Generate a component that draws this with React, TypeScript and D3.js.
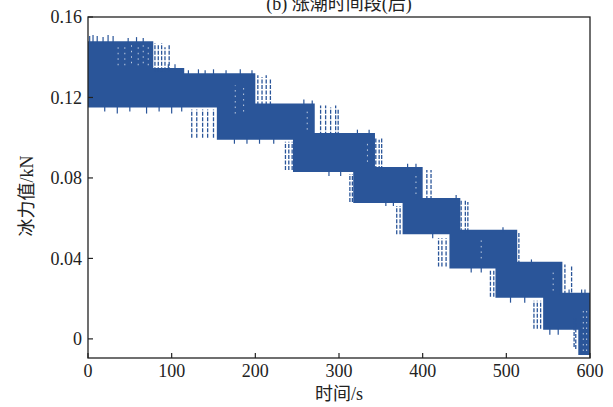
import React from 'react'
import * as d3 from 'd3'

// upper edge of the band: step starts (s) and level (kN)
const upperT = [0, 78, 115, 200, 271, 343, 400, 445, 513, 567]
const upperV = [0.148, 0.1347, 0.132, 0.117, 0.1024, 0.0855, 0.07, 0.0542, 0.0383, 0.0229]

// lower edge of the band
const lowerT = [0, 154, 245, 317, 376, 432, 487, 544, 586]
const lowerV = [0.115, 0.099, 0.083, 0.0676, 0.052, 0.035, 0.0204, 0.0045, -0.008]

// dashed spikes sticking out round the steps
const spikeT = [80, 84, 88, 92, 97, 124, 130, 137, 143, 150, 203, 208, 213, 218, 236, 240, 244,
  278, 284, 290, 296, 299, 313, 316, 344, 348, 351, 369, 373, 393, 398, 405, 410, 419, 423, 428,
  446, 451, 454, 481, 485, 511, 515, 533, 537, 541, 564, 570, 578, 581, 583]
const spikeLo = [0.133, 0.133, 0.133, 0.133, 0.133, 0.1, 0.1, 0.1, 0.1, 0.1, 0.116, 0.116, 0.116, 0.116, 0.084, 0.084, 0.084,
  0.101, 0.101, 0.101, 0.101, 0.101, 0.068, 0.068, 0.084, 0.084, 0.084, 0.052, 0.052, 0.069, 0.069, 0.069, 0.069, 0.036, 0.036, 0.036,
  0.053, 0.053, 0.053, 0.021, 0.021, 0.037, 0.037, 0.005, 0.005, 0.005, 0.022, 0.022, 0.023, -0.004, -0.005]
const spikeHi = [0.147, 0.146, 0.147, 0.145, 0.146, 0.114, 0.114, 0.114, 0.114, 0.114, 0.131, 0.13, 0.131, 0.129, 0.098, 0.098, 0.098,
  0.116, 0.116, 0.115, 0.116, 0.114, 0.082, 0.082, 0.1, 0.099, 0.1, 0.066, 0.066, 0.085, 0.085, 0.084, 0.084, 0.05, 0.05, 0.05,
  0.069, 0.069, 0.068, 0.034, 0.034, 0.053, 0.053, 0.019, 0.019, 0.019, 0.037, 0.037, 0.036, 0.01, 0.01]

// short ragged bits on the band edges
const edgeT = [2, 6, 11, 18, 24, 30, 48, 58, 66, 96, 104, 120, 132, 140, 150, 165, 182, 196,
  20, 35, 50, 70, 85, 100, 112, 175, 190, 205, 222, 258, 268, 288, 302, 322, 336, 356, 365,
  382, 392, 412, 440, 458, 470, 496, 505, 522, 530, 552, 562, 575, 590, 594]
const edgeLo = [0.147, 0.147, 0.147, 0.147, 0.147, 0.147, 0.147, 0.147, 0.147, 0.134, 0.134, 0.131, 0.131, 0.131, 0.131, 0.131, 0.131, 0.131,
  0.113, 0.112, 0.113, 0.112, 0.113, 0.112, 0.113, 0.097, 0.097, 0.097, 0.097, 0.116, 0.116, 0.081, 0.081, 0.1015, 0.1015, 0.066, 0.066,
  0.0845, 0.0845, 0.05, 0.069, 0.033, 0.033, 0.053, 0.018, 0.018, 0.037, 0.002, 0.002, 0.022, 0.022, 0.022]
const edgeHi = [0.1505, 0.151, 0.1505, 0.15, 0.151, 0.1505, 0.1495, 0.15, 0.1495, 0.1365, 0.1365, 0.1335, 0.134, 0.1335, 0.134, 0.1335, 0.134, 0.1335,
  0.1155, 0.1155, 0.1155, 0.1155, 0.1155, 0.1155, 0.1155, 0.0995, 0.0995, 0.0995, 0.0995, 0.119, 0.1185, 0.0835, 0.0835, 0.104, 0.104, 0.0685, 0.0685,
  0.087, 0.087, 0.0525, 0.0715, 0.0355, 0.0355, 0.0555, 0.021, 0.021, 0.0395, 0.005, 0.005, 0.0245, 0.0245, 0.0245]

// light streaks inside the band
const whiteT = [36, 44, 52, 60, 66, 72, 176, 186, 262, 334, 392, 470, 556, 592, 596]
const whiteLo = [0.136, 0.136, 0.137, 0.136, 0.137, 0.136, 0.112, 0.113, 0.104, 0.088, 0.072, 0.04, 0.024, -0.006, -0.006]
const whiteHi = [0.146, 0.146, 0.146, 0.146, 0.146, 0.146, 0.126, 0.126, 0.114, 0.098, 0.082, 0.05, 0.034, 0.015, 0.015]

const xTicks = [0, 100, 200, 300, 400, 500, 600]
const yTicks = [0, 0.04, 0.08, 0.12, 0.16]

const title = '(b) 涨潮时间段(后)'
const xTitle = '时间/s'
const yTitle = '冰力值/kN'

const W = 613
const H = 407
const left = 88
const right = 590
const top = 17
const bottom = 358
const blue = '#2a5599'
const font = "'Liberation Serif', 'Times New Roman', 'Noto Sans CJK SC', serif"

function levelAt(ts: number[], vs: number[], t: number) {
  let v = vs[0]
  ts.forEach((s, i) => { if (t >= s) v = vs[i] })
  return v
}

export default function App() {
  const x = d3.scaleLinear().domain([0, 600]).range([left, right])
  const y = d3.scaleLinear().domain([-0.0095, 0.16]).range([bottom, top])

  const breaks = Array.from(new Set([...upperT, ...lowerT, 600])).sort((a, b) => a - b)
  const band = breaks.map(t => ({ t, hi: levelAt(upperT, upperV, t), lo: levelAt(lowerT, lowerV, t) }))

  const area = d3.area<{ t: number; hi: number; lo: number }>()
    .x(d => x(d.t))
    .y0(d => y(d.lo))
    .y1(d => y(d.hi))
    .curve(d3.curveStepAfter)

  return (
    <svg width={W} height={H} style={{ position: 'absolute', left: 0, top: 0, background: '#fff' }}
      fontFamily={font}>
      <rect width={W} height={H} fill="#fff" />
      <path d={area(band) || ''} fill={blue} />
      {spikeT.map((t, i) => (
        <line key={'s' + i} x1={x(t)} x2={x(t)} y1={y(spikeLo[i])} y2={y(spikeHi[i])}
          stroke={blue} strokeWidth={1.3} strokeDasharray="4,1.5" />
      ))}
      {edgeT.map((t, i) => (
        <line key={'e' + i} x1={x(t)} x2={x(t)} y1={y(edgeLo[i])} y2={y(edgeHi[i])}
          stroke={blue} strokeWidth={1.2} />
      ))}
      {whiteT.map((t, i) => (
        <line key={'w' + i} x1={x(t)} x2={x(t)} y1={y(whiteLo[i])} y2={y(whiteHi[i])}
          stroke="#fff" strokeOpacity={0.7} strokeWidth={1} strokeDasharray="1.5,4" />
      ))}

      <rect x={left} y={top} width={right - left} height={bottom - top} fill="none" stroke="#222" strokeWidth={1.3} />

      {xTicks.map(t => (
        <g key={'x' + t}>
          <line x1={x(t)} x2={x(t)} y1={bottom} y2={bottom - 5} stroke="#222" strokeWidth={1.2} />
          <text x={x(t)} y={377} textAnchor="middle" fontSize={18} fill="#222">{t}</text>
        </g>
      ))}
      {yTicks.map(t => (
        <g key={'y' + t}>
          <line x1={left} x2={left + 5} y1={y(t)} y2={y(t)} stroke="#222" strokeWidth={1.2} />
          <text x={82} y={y(t)} dy="0.35em" textAnchor="end" fontSize={18} fill="#222">{t}</text>
        </g>
      ))}

      <text x={(left + right) / 2} y={10} textAnchor="middle" fontSize={18} fill="#222">{title}</text>
      <text x={(left + right) / 2} y={400} textAnchor="middle" fontSize={18} fill="#222">{xTitle}</text>
      <text transform={`translate(33,196) rotate(-90)`} textAnchor="middle" fontSize={18} fill="#222">{yTitle}</text>
    </svg>
  )
}
